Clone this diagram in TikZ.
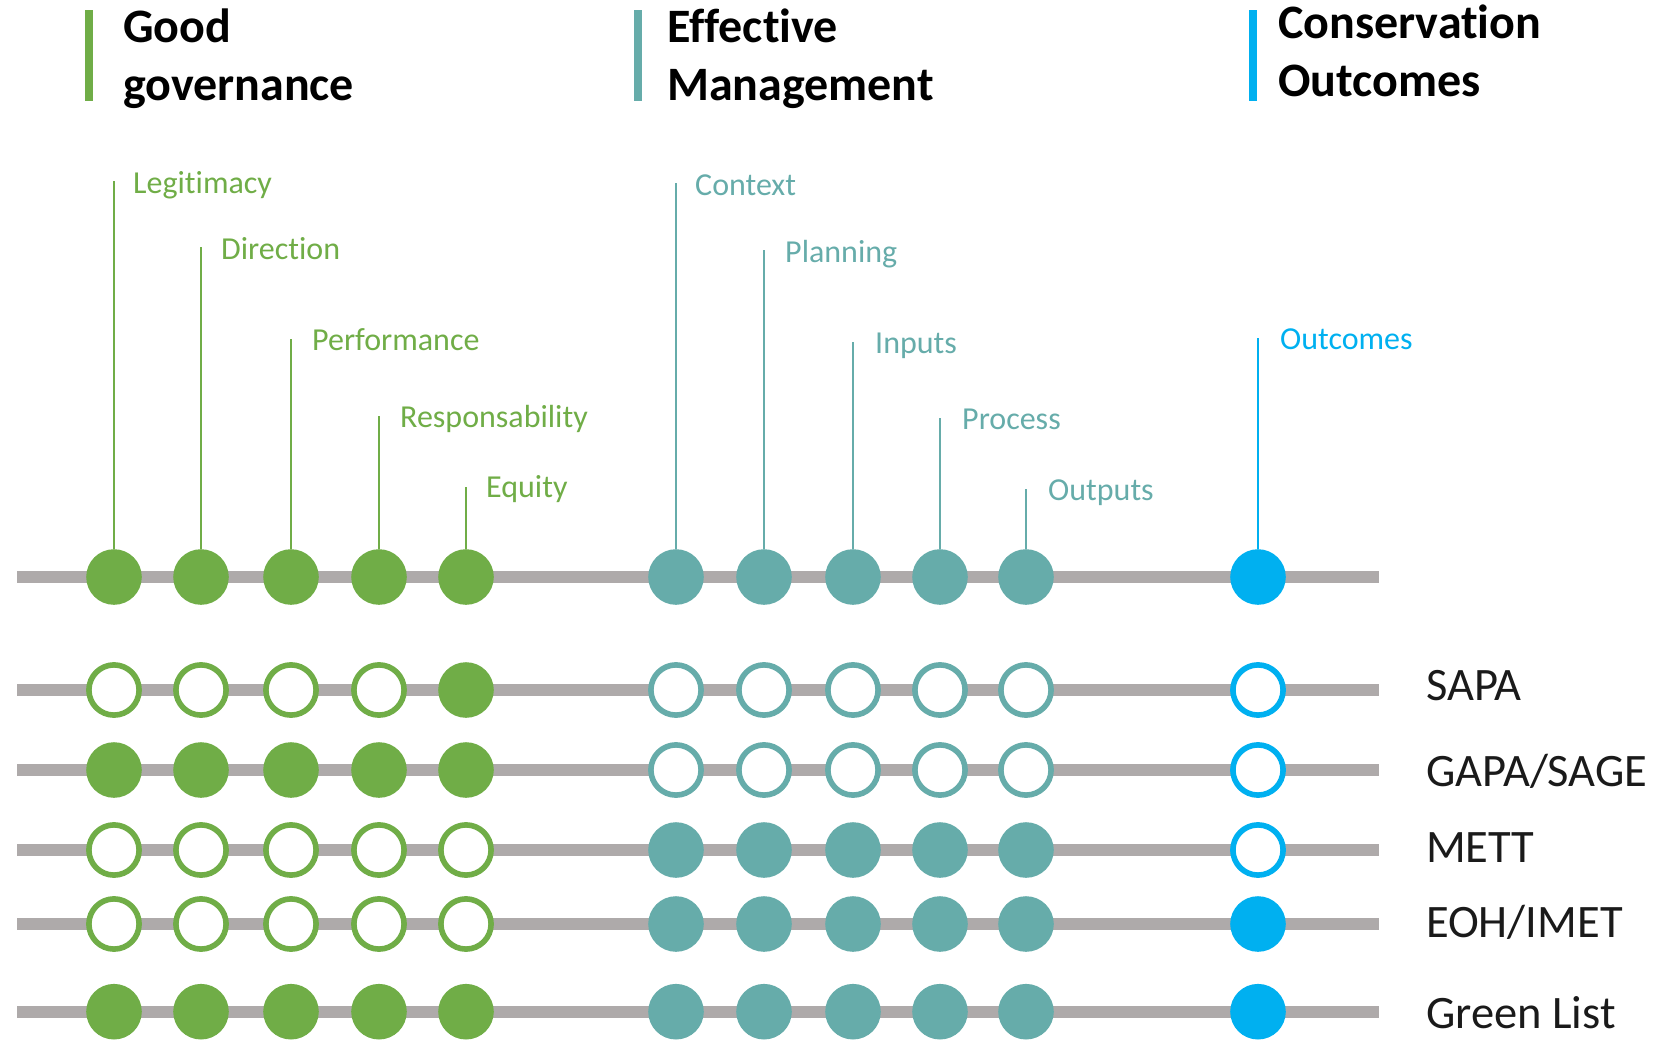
\documentclass[tikz,border=0pt]{standalone}
\usepackage{fontspec}
\setmainfont{Carlito}[Ligatures={NoCommon}]
\usetikzlibrary{positioning}
\definecolor{govgreen}{RGB}{112, 173, 71}
\definecolor{mgmtteal}{RGB}{102, 172, 170}
\definecolor{outblue}{RGB}{0, 176, 240}
\definecolor{trackgray}{RGB}{174, 170, 170}
\definecolor{toolink}{RGB}{26, 26, 26}

\tikzset{
  fulldot/.style={circle, inner sep=0pt, minimum size=55.6pt},
  opendot/.style={circle, inner sep=0pt, minimum size=50.2pt, line width=5.6pt, fill=white},
  gon/.style={fulldot, fill=govgreen},
  goff/.style={opendot, draw=govgreen},
  ton/.style={fulldot, fill=mgmtteal},
  toff/.style={opendot, draw=mgmtteal},
  bon/.style={fulldot, fill=outblue},
  boff/.style={opendot, draw=outblue},
  track/.style={draw=trackgray, line width=12.3pt},
  stem/.style={line width=1.7pt},
  lbl/.style={anchor=base west, inner sep=0pt, font=\fontsize{32}{38}\selectfont},
  hdr/.style={anchor=base west, inner sep=0pt, align=left, font=\fontsize{48}{57.5}\selectfont\bfseries},
  tool/.style={anchor=base west, inner sep=0pt, text=toolink, font=\fontsize{46.5}{56}\selectfont},
}

\begin{document}
\begin{tikzpicture}[x=1pt, y=-1pt]
  \useasboundingbox (0,0) rectangle (1666,1041);

  % Headers (base = last line)
  \fill[govgreen] (85,10) rectangle (93,101);
  \node[hdr] (govhdr) at (123,100) {Good\\governance};
  \fill[mgmtteal] (634,10) rectangle (642,101);
  \node[hdr] (mgmthdr) at (667,100) {Effective\\Management};
  \fill[outblue] (1249,10) rectangle (1257,101);
  \node[hdr] (outhdr) at (1278,96) {Conservation\\Outcomes};

  % Principles
  \draw[track] (17,577) -- (1379,577);
  \foreach \x/\s [count=\i] in {114/gon,201/gon,291/gon,379/gon,466/gon,676/ton,764/ton,853/ton,940/ton,1026/ton,1258/bon}
    \node[\s] (top\i) at (\x,577) {};

  \coordinate (legit-top) at (114,181);
  \coordinate (dir-top) at (201,247);
  \coordinate (perf-top) at (291,339);
  \coordinate (resp-top) at (379,416);
  \coordinate (equity-top) at (466,487);
  \coordinate (context-top) at (676,183);
  \coordinate (plan-top) at (764,250);
  \coordinate (inputs-top) at (853,342);
  \coordinate (process-top) at (940,418);
  \coordinate (outputs-top) at (1026,489);
  \coordinate (outcomes-top) at (1258,338);

  \draw[stem, govgreen] (top1) -- (legit-top);
  \draw[stem, govgreen] (top2) -- (dir-top);
  \draw[stem, govgreen] (top3) -- (perf-top);
  \draw[stem, govgreen] (top4) -- (resp-top);
  \draw[stem, govgreen] (top5) -- (equity-top);
  \draw[stem, mgmtteal] (top6) -- (context-top);
  \draw[stem, mgmtteal] (top7) -- (plan-top);
  \draw[stem, mgmtteal] (top8) -- (inputs-top);
  \draw[stem, mgmtteal] (top9) -- (process-top);
  \draw[stem, mgmtteal] (top10) -- (outputs-top);
  \draw[stem, outblue] (top11) -- (outcomes-top);

  \node[lbl, text=govgreen] (legit) at (133,193) {Legitimacy};
  \node[lbl, text=govgreen] (dir) at (221,259) {Direction};
  \node[lbl, text=govgreen] (perf) at (312,350) {Performance};
  \node[lbl, text=govgreen] (resp) at (400,427) {Responsability};
  \node[lbl, text=govgreen] (equity) at (486,497) {Equity};
  \node[lbl, text=mgmtteal] (context) at (695,195) {Context};
  \node[lbl, text=mgmtteal] (plan) at (785,262) {Planning};
  \node[lbl, text=mgmtteal] (inputs) at (875,353) {Inputs};
  \node[lbl, text=mgmtteal] (process) at (962,429) {Process};
  \node[lbl, text=mgmtteal] (outputs) at (1048,500) {Outputs};
  \node[lbl, text=outblue] (outcomes) at (1280,349) {Outcomes};

  % SAPA
  \draw[track] (17,690) -- (1379,690);
  \foreach \x/\s [count=\i] in {114/goff,201/goff,291/goff,379/goff,466/gon,676/toff,764/toff,853/toff,940/toff,1026/toff,1258/boff}
    \node[\s] (sapa\i) at (\x,690) {};
  \node[tool] (sapa) at (1426,700) {SAPA};

  % GAPA/SAGE
  \draw[track] (17,770) -- (1379,770);
  \foreach \x/\s [count=\i] in {114/gon,201/gon,291/gon,379/gon,466/gon,676/toff,764/toff,853/toff,940/toff,1026/toff,1258/boff}
    \node[\s] (gapa\i) at (\x,770) {};
  \node[tool] (gapa) at (1426,786) {GAPA/SAGE};

  % METT
  \draw[track] (17,850) -- (1379,850);
  \foreach \x/\s [count=\i] in {114/goff,201/goff,291/goff,379/goff,466/goff,676/ton,764/ton,853/ton,940/ton,1026/ton,1258/boff}
    \node[\s] (mett\i) at (\x,850) {};
  \node[tool] (mett) at (1426,862) {METT};

  % EOH/IMET
  \draw[track] (17,924) -- (1379,924);
  \foreach \x/\s [count=\i] in {114/goff,201/goff,291/goff,379/goff,466/goff,676/ton,764/ton,853/ton,940/ton,1026/ton,1258/bon}
    \node[\s] (eoh\i) at (\x,924) {};
  \node[tool] (eoh) at (1426,937) {EOH/IMET};

  % Green List
  \draw[track] (17,1011.7) -- (1379,1011.7);
  \foreach \x/\s [count=\i] in {114/gon,201/gon,291/gon,379/gon,466/gon,676/ton,764/ton,853/ton,940/ton,1026/ton,1258/bon}
    \node[\s] (glist\i) at (\x,1011.7) {};
  \node[tool] (glist) at (1426,1028) {Green List};
\end{tikzpicture}
\end{document}
